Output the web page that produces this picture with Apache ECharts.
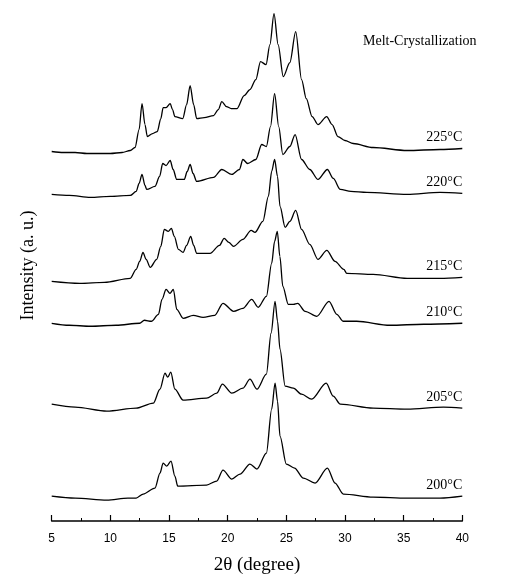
<!DOCTYPE html>
<html>
<head>
<meta charset="utf-8">
<script src="https://cdn.jsdelivr.net/npm/echarts@6/dist/echarts.min.js"></script>
<style>html,body{margin:0;padding:0;background:#fff}#c{width:509px;height:580px}</style>
</head>
<body>
<div id="c"></div>
<script>
// 2θ (degree) vs stacked intensity (a.u., offset traces)
const curve225 = [[5,370],[6,369],[7,369],[8,368],[9,368],[10,368],[11,369],[11.7,371],[12.1,374],[12.45,392],[12.7,418],[12.95,397],[13.15,385],[13.6,388],[14.0,390],[14.3,403],[14.5,414],[14.75,414],[15.1,418],[15.3,412],[15.5,405],[16.17,403],[16.5,417],[16.8,436],[17.1,417],[17.36,403],[18.0,404],[18.8,406],[19.2,412],[19.5,420],[19.9,415],[20.3,413],[20.8,413],[21.4,426],[21.9,432],[22.4,442],[22.8,460],[23.27,457],[23.6,477],[23.95,508],[24.3,477],[24.74,445],[25.3,459],[25.8,490],[26.3,442],[26.7,423],[27.2,405],[27.7,397],[28.44,405],[28.9,397],[29.4,385],[30.0,381],[30.7,378],[32.4,374],[35.3,371],[38.1,372],[40,373]];
const curve220 = [[5,327],[6.5,326],[8.3,324],[10,325],[11.7,326],[12.2,330],[12.45,338],[12.7,347],[12.95,336],[13.1,332],[13.8,335],[14.2,345],[14.46,358],[14.75,356],[15.1,361],[15.35,352],[15.66,342],[16.3,342],[16.55,350],[16.8,357],[17.05,348],[17.36,340],[18.8,344],[19.5,352],[20.35,347],[21.0,352],[21.3,362],[21.7,358],[22.4,362],[22.9,377],[23.3,375],[23.65,395],[24.0,428],[24.35,395],[24.7,367],[25.3,375],[25.75,387],[26.3,362],[27.0,352],[27.7,342],[28.5,352],[29.0,343],[29.6,332],[30.5,330],[31.85,329],[35.3,327],[38.1,329],[40,328]];
const curve215 = [[5,240],[7.4,238],[9.5,239],[11.7,243],[12.2,252],[12.5,260],[12.78,269],[13.05,262],[13.4,254],[13.95,262],[14.3,275],[14.6,292],[14.94,290],[15.2,293],[15.45,285],[15.8,272],[16.2,269],[16.5,276],[16.85,285],[17.1,276],[17.36,268],[18.5,268],[19.3,276],[19.7,283],[20.1,279],[20.5,275],[21.3,282],[22.0,291],[22.33,289],[23.0,300],[23.47,325],[23.75,350],[24.0,362],[24.25,345],[24.46,315],[24.9,294],[25.3,300],[25.8,311],[26.3,292],[27.0,277],[27.7,262],[28.45,271],[29.15,260],[29.9,252],[30.15,248],[32.4,247],[35.3,243],[38.1,243],[40,244]];
const curve210 = [[5,198],[6.5,196],[8.3,195],[10.5,196],[12.5,198],[12.9,201],[13.5,200],[14.1,207],[14.4,222],[14.75,232],[15.08,228],[15.37,232],[15.66,212],[16.2,203],[17.07,206],[17.9,204],[18.9,206],[19.6,218],[20.5,210],[21.3,213],[22.05,222],[22.6,214],[23.3,225],[23.75,258],[24.0,280],[24.23,290],[24.45,265],[24.7,235],[25.17,217],[25.6,217],[25.97,218],[26.6,210],[27.6,205],[28.64,220],[29.3,207],[29.86,200],[31.0,200],[33.84,196],[36.7,197],[40,198]];
const curve205 = [[5,117],[7,114],[9.7,110],[12.2,113],[13.66,118],[14.23,132],[14.66,148],[14.89,144],[15.15,149],[15.5,132],[16.2,121],[18.2,123],[19.07,128],[19.55,137],[20.35,128],[21.3,133],[21.9,142],[22.5,132],[23.3,147],[23.7,188],[24.04,220],[24.25,200],[24.46,172],[24.9,135],[25.6,133],[26.3,127],[27.16,122],[28.4,138],[29.0,125],[29.6,117],[32.4,113],[35.3,112],[38.4,114],[40,113]];
const curve200 = [[5,25],[7,23],[9.7,21],[11.5,23],[12.2,23],[12.8,27],[13.8,33],[14.23,48],[14.5,58],[14.8,55],[15.17,60],[15.5,45],[15.74,35],[18.2,36],[19.07,40],[19.6,51],[20.35,42],[21.05,47],[21.9,57],[22.5,52],[23.3,68],[23.75,112],[24.04,138],[24.25,120],[24.46,85],[25.0,57],[25.7,53],[26.45,43],[27.45,38],[28.5,53],[29.15,38],[29.86,27],[32.4,24],[35.3,23],[38.1,23],[40,25]];
const curves = [curve225, curve220, curve215, curve210, curve205, curve200];
const temps = ['225°C','220°C','215°C','210°C','205°C','200°C'];
const titleText = 'Melt-Crystallization';
const xName = '2θ (degree)';
const yName = 'Intensity (a. u.)';

const chart = echarts.init(document.getElementById('c'), null, {renderer:'canvas'});
const serif = '"Liberation Serif","Times New Roman",serif';
const option = {
  animation:false,
  backgroundColor:'#fff',
  grid:{left:51.7,right:46.7,top:10,bottom:58.3},
  xAxis:{type:'value',min:5,max:40,interval:5,
    name:xName,nameLocation:'middle',nameGap:35,
    nameTextStyle:{fontFamily:serif,fontSize:19,color:'#000'},
    axisLine:{show:true,onZero:false,lineStyle:{color:'#000',width:1.5}},
    axisTick:{show:true,inside:true,length:6,lineStyle:{color:'#000',width:1.2}},
    minorTick:{show:true,splitNumber:2,length:3,lineStyle:{color:'#000',width:1}},
    axisLabel:{color:'#000',fontFamily:'"Liberation Sans",Arial,sans-serif',fontSize:12,margin:12},
    splitLine:{show:false}},
  yAxis:{type:'value',min:0,max:511.7,show:true,
    name:yName,nameLocation:'middle',nameGap:14,nameRotate:90,
    nameTextStyle:{fontFamily:serif,fontSize:18,color:'#000'},
    axisLine:{show:false},axisTick:{show:false},axisLabel:{show:false},splitLine:{show:false}},
  series: curves.map((d,i)=>({type:'line',data:d,showSymbol:false,symbol:'none',
    smooth:0.3,smoothMonotone:'x',
    lineStyle:{color:'#000',width:1.3}}))
};
chart.setOption(option);
const graphics = [{type:'text',left:363,top:34,style:{text:titleText,font:'14px '+serif,fill:'#000'}}];
curves.forEach((d,i)=>{
  const last = d[d.length-1];
  const p = chart.convertToPixel({gridIndex:0},[last[0],last[1]]);
  graphics.push({type:'text',x:p[0],y:p[1]-11,style:{text:temps[i],font:'14px '+serif,fill:'#000',align:'right',verticalAlign:'middle'}});
});
chart.setOption({graphic:graphics});
</script>
</body>
</html>
